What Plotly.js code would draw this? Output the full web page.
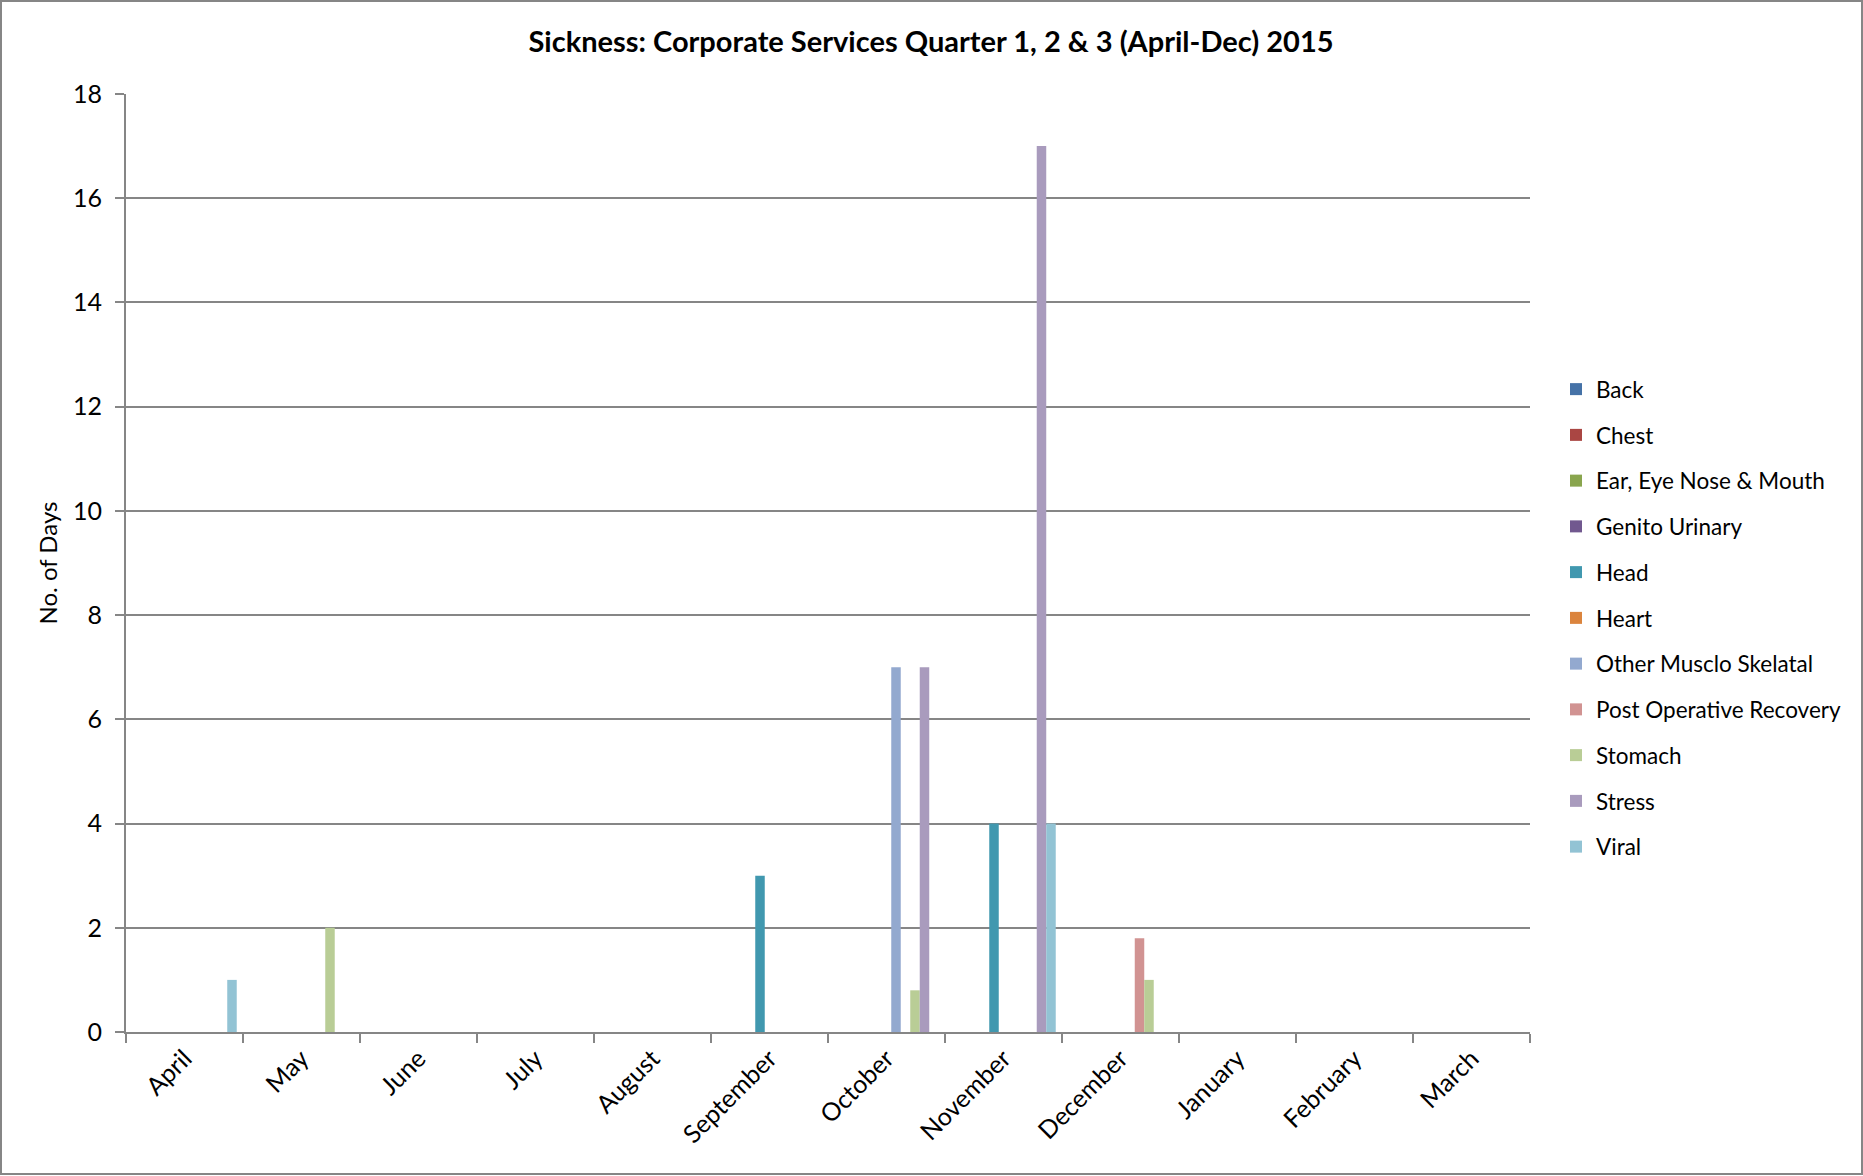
<!DOCTYPE html>
<html>
<head>
<meta charset="utf-8">
<script src="https://cdn.plot.ly/plotly-3.0.1.min.js"></script>
<style>html,body{margin:0;padding:0;background:#fff;}#chart{width:1863px;height:1176px;}</style>
</head>
<body>
<div id="chart"></div>
<script>
const months = ["April","May","June","July","August","September","October","November","December","January","February","March"];
const seriesNames = ["Back","Chest","Ear, Eye Nose & Mouth","Genito Urinary","Head","Heart","Other Musclo Skelatal","Post Operative Recovery","Stomach","Stress","Viral"];
const back     = [0,0,0,0,0,0,0,0,0,0,0,0];
const chest    = [0,0,0,0,0,0,0,0,0,0,0,0];
const earEye   = [0,0,0,0,0,0,0,0,0,0,0,0];
const genito   = [0,0,0,0,0,0,0,0,0,0,0,0];
const head     = [0,0,0,0,0,3,0,4,0,0,0,0];
const heart    = [0,0,0,0,0,0,0,0,0,0,0,0];
const otherMS  = [0,0,0,0,0,0,7,0,0,0,0,0];
const postOp   = [0,0,0,0,0,0,0,0,1.8,0,0,0];
const stomach  = [0,2,0,0,0,0,0.8,0,1,0,0,0];
const stress   = [0,0,0,0,0,0,7,17,0,0,0,0];
const viral    = [1,0,0,0,0,0,0,4,0,0,0,0];
const seriesValues = [back,chest,earEye,genito,head,heart,otherMS,postOp,stomach,stress,viral];
const colors = ["#4572A7","#AA4643","#89A54E","#71588F","#4198AF","#DB843D","#93A9CF","#D19392","#B9CD96","#A99BBD","#92C3D4"];

const FONT = "Lato, 'Open Sans', sans-serif";
const traces = seriesNames.map((n,i)=>({
  type:"bar", name:n, x:months, y:seriesValues[i],
  marker:{color:colors[i]}, legendgroup:"g"+i
}));

const L=126, R=1530, T=94, B=1032;
const W=1863, H=1176;
const pw=R-L, ph=B-T;
const layout = {
  width:W, height:H,
  margin:{l:L, r:W-R, t:T, b:H-B, pad:0},
  paper_bgcolor:"#fff", plot_bgcolor:"#fff",
  font:{family:FONT, color:"#000", size:24},
  title:{text:"<b>Sickness: Corporate Services Quarter 1, 2 & 3 (April-Dec) 2015</b>",
         font:{family:FONT, size:29, color:"#000"}, x:(931)/W, xanchor:"center", y:1-42/H, yanchor:"middle"},
  barmode:"group", bargap:0.107, bargroupgap:0,
  showlegend:true,
  legend:{x:(1556-L)/pw, xanchor:"left", y:(B-368)/ph, yanchor:"top",
          traceorder:"grouped", tracegroupgap:13.5,
          font:{family:FONT, size:22.5, color:"#000"}, itemwidth:30, bgcolor:"rgba(0,0,0,0)"},
  xaxis:{type:"category", tickangle:-45, showline:true, linecolor:"#868686", linewidth:2,
         ticks:"outside", tickson:"boundaries", ticklen:9, tickcolor:"#868686", tickwidth:2,
         showgrid:false, tickfont:{family:FONT, size:25, color:"#000"}, fixedrange:true},
  yaxis:{range:[0,18], dtick:2, tick0:0, showline:true, linecolor:"#868686", linewidth:2,
         ticks:"outside", ticklen:9, tickcolor:"#868686", tickwidth:2,
         showgrid:true, gridcolor:"#868686", gridwidth:2, zeroline:false,
         tickfont:{family:FONT, size:25, color:"#000"}, ticklabelstandoff:8,
         title:{text:"No. of Days", font:{family:FONT, size:24, color:"#000"}, standoff:9}},
  shapes:[{type:"rect", xref:"paper", yref:"paper",
           x0:(1-L)/pw, x1:(1862-L)/pw, y0:(B-1174)/ph, y1:(B-1)/ph,
           line:{color:"#868686", width:2}, fillcolor:"rgba(0,0,0,0)", layer:"below"}]
};
Plotly.newPlot("chart", traces, layout, {displayModeBar:false, staticPlot:true});
</script>
</body>
</html>
